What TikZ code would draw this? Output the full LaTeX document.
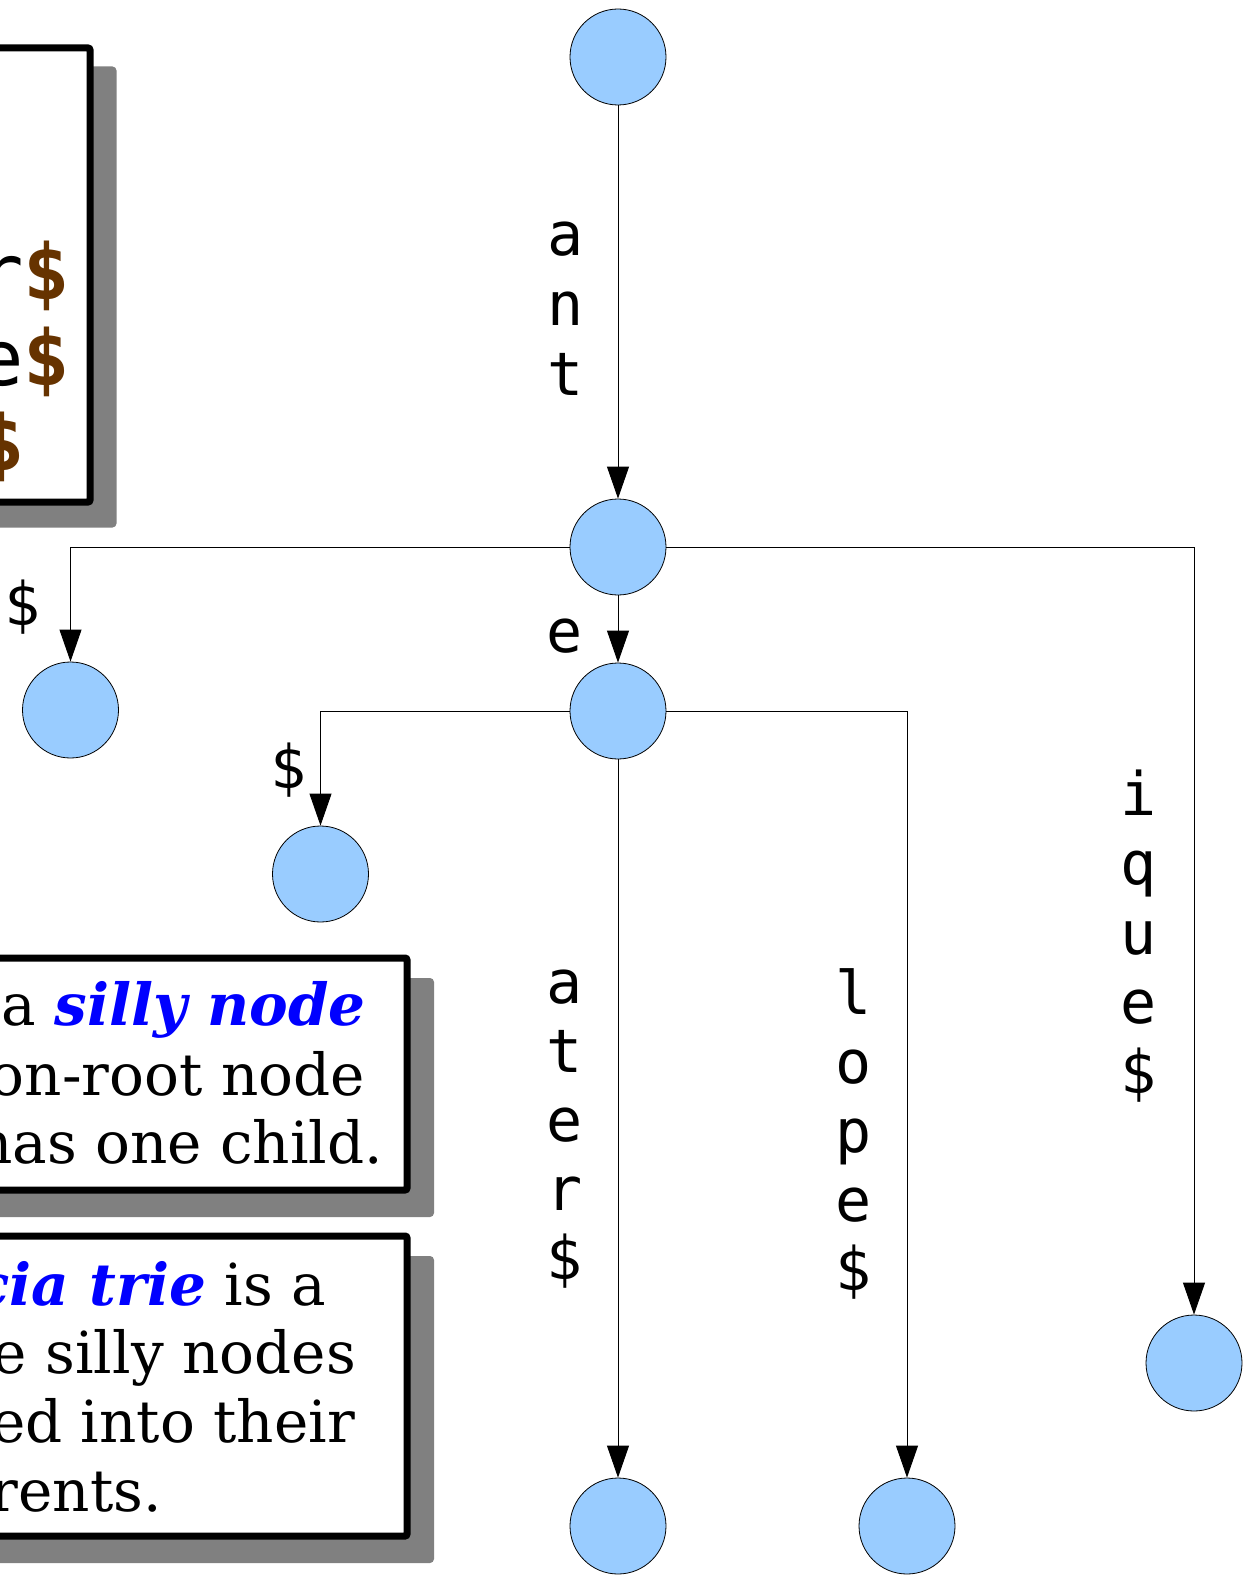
\documentclass[tikz,border=0pt]{standalone}
\usepackage{fontspec}
\setmainfont{DejaVu Serif}
\newfontfamily\labelfont{DejaVu Sans Mono}
\usetikzlibrary{arrows.meta}
\definecolor{nodeblue}{HTML}{99CCFF}
\definecolor{shadowgray}{HTML}{808080}
\definecolor{markbrown}{HTML}{663300}
\newcommand{\term}[1]{\textcolor{blue}{\textbf{\textit{#1}}}}
\newcommand{\dollarmark}{\textbf{\textcolor{markbrown}{\$}}}

\begin{document}
\begin{tikzpicture}[x=1pt,y=-1pt,
  trienode/.style={minimum size=96pt,draw,circle,fill=nodeblue,line width=0.8pt,inner sep=0pt},
  edge/.style={line width=0.9pt,-{Triangle[width=22pt,length=32pt]}},
  lbl/.style={font=\labelfont\fontsize{60}{70}\selectfont,anchor=base,inner sep=0pt},
  boxtxt/.style={font=\fontsize{58}{69}\selectfont,anchor=base east,inner sep=0pt},
  wordtxt/.style={font=\labelfont\fontsize{77}{86}\selectfont,anchor=base east,inner sep=0pt},
  shadowbox/.style={fill=shadowgray,rounded corners=4pt},
  textbox/.style={draw,fill=white,line width=7pt,rounded corners=2pt}]
\useasboundingbox (0,0) rectangle (1251,1581);

% word list box
\fill[shadowbox] (-40,66.5) rectangle (116.5,527.5);
\draw[textbox] (-40,48) rectangle (90,502);
\node[wordtxt] (word1) at (70,299) {r\dollarmark};
\node[wordtxt] (word2) at (70,385) {e\dollarmark};
\node[wordtxt] (word3) at (25,470) {\dollarmark};

% silly node box
\fill[shadowbox] (-40,978) rectangle (434,1217);
\draw[textbox] (-40,958) rectangle (407,1190);
\node[boxtxt] (silly1) at (366,1025) {a \term{silly node}};
\node[boxtxt] (silly2) at (365,1095) {on-root node};
\node[boxtxt] (silly3) at (383,1163) {has one child.};

% patricia box
\fill[shadowbox] (-40,1256) rectangle (434,1563);
\draw[textbox] (-40,1236) rectangle (407,1536);
\node[boxtxt] (trie1) at (326,1305) {\term{cia trie} is a};
\node[boxtxt] (trie2) at (356,1373) {e silly nodes};
\node[boxtxt] (trie3) at (355,1442) {ed into their};
\node[boxtxt] (trie4) at (162,1511) {rents.};

% trie
\draw (618,57) node[trienode](root) {};
\draw (618,547) node[trienode](ant) {};
\draw (70.5,710) node[trienode](antend) {};
\draw (618,711) node[trienode](ante) {};
\draw (320.5,874) node[trienode](anteend) {};
\draw (618,1526) node[trienode](anteater) {};
\draw (907,1526) node[trienode](antelope) {};
\draw (1194,1363) node[trienode](antique) {};

\draw[edge] (root) -- (ant);
\draw[edge] (ant.west) -| (antend.north);
\draw[edge] (ant) -- (ante);
\draw[edge] (ant.east) -| (antique.north);
\draw[edge] (ante.west) -| (anteend.north);
\draw[edge] (ante) -- (anteater);
\draw[edge] (ante.east) -| (antelope.north);

% edge labels, one letter per line
\foreach \c [count=\i from 0] in {a,n,t}
  \node[lbl] (lant\i) at (566,255+70*\i) {\c};
\node[lbl] (lend) at (23,625) {\$};
\node[lbl] (le) at (565,652) {e};
\node[lbl] (leend) at (289,788) {\$};
\foreach \c [count=\i from 0] in {a,t,e,r,\$}
  \node[lbl] (later\i) at (565,1003+69.2*\i) {\c};
\foreach \c [count=\i from 0] in {l,o,p,e,\$}
  \node[lbl] (llope\i) at (854,1014+69.2*\i) {\c};
\foreach \c [count=\i from 0] in {i,q,u,e,\$}
  \node[lbl] (lique\i) at (1139,815+69.5*\i) {\c};
\end{tikzpicture}
\end{document}
